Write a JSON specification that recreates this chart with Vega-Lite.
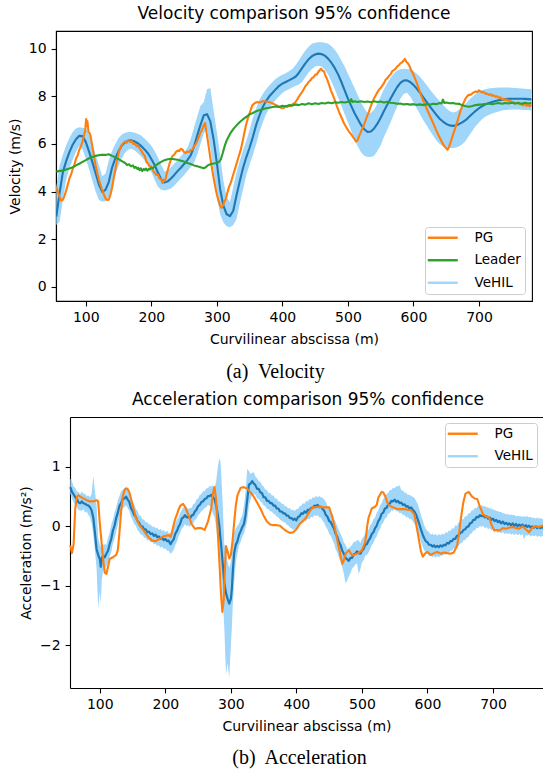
{
  "$schema": "https://vega.github.io/schema/vega-lite/v6.json",
  "background": "white",
  "padding": {"left": 8, "top": 4, "right": 0, "bottom": 0},
  "autosize": {"type": "pad"},
  "config": {
    "font": "DejaVu Sans",
    "view": {"stroke": null},
    "axis": {"grid": false, "domainColor": "#000", "domainWidth": 1.1, "tickColor": "#000", "tickWidth": 1.1, "tickSize": 4.9, "labelPadding": 4.9, "labelFont": "DejaVu Sans", "labelFontSize": 14, "labelColor": "#000", "titleFont": "DejaVu Sans", "titleFontSize": 14, "titleFontWeight": "normal", "titleColor": "#000"},
    "axisX": {"titlePadding": 7.5},
    "axisY": {"titlePadding": 5.6},
    "title": {"font": "DejaVu Sans", "fontSize": 17, "fontWeight": "normal", "color": "#000", "offset": 8, "anchor": "middle"},
    "concat": {"spacing": 9}
  },
  "resolve": {"scale": {"color": "independent", "x": "independent", "y": "independent"}, "legend": {"color": "independent"}},
  "datasets": {
    "vb": [
      {"x":55,"m":2.95,"lo":2.6,"hi":4.2},{"x":60,"m":3.95,"lo":2.75,"hi":5.1},{"x":65,"m":4.82,"lo":3.65,"hi":5.55},{"x":70,"m":5.28,"lo":4.5,"hi":5.95},{"x":75,"m":5.66,"lo":5.0,"hi":6.25},{"x":80,"m":5.97,"lo":5.35,"hi":6.5},{"x":85,"m":6.2,"lo":5.67,"hi":6.65},{"x":90,"m":6.34,"lo":5.9,"hi":6.7},{"x":95,"m":6.33,"lo":5.78,"hi":6.68},{"x":100,"m":6.08,"lo":5.38,"hi":6.65},
      {"x":105,"m":5.68,"lo":4.94,"hi":6.4},{"x":110,"m":5.24,"lo":4.47,"hi":6.0},{"x":115,"m":4.77,"lo":4.0,"hi":5.55},{"x":120,"m":4.3,"lo":3.65,"hi":5.1},{"x":125,"m":3.99,"lo":3.58,"hi":4.65},{"x":130,"m":4.07,"lo":3.6,"hi":4.75},{"x":135,"m":4.4,"lo":3.75,"hi":5.3},{"x":140,"m":5.0,"lo":4.1,"hi":5.7},{"x":145,"m":5.4,"lo":4.7,"hi":6.0},{"x":150,"m":5.7,"lo":5.1,"hi":6.25},
      {"x":155,"m":5.94,"lo":5.4,"hi":6.4},{"x":160,"m":6.07,"lo":5.64,"hi":6.47},{"x":165,"m":6.14,"lo":5.77,"hi":6.5},{"x":170,"m":6.15,"lo":5.8,"hi":6.5},{"x":175,"m":6.1,"lo":5.72,"hi":6.47},{"x":180,"m":6.02,"lo":5.6,"hi":6.42},{"x":185,"m":5.9,"lo":5.46,"hi":6.34},{"x":190,"m":5.76,"lo":5.3,"hi":6.22},{"x":195,"m":5.6,"lo":5.07,"hi":6.08},{"x":200,"m":5.37,"lo":4.82,"hi":5.92},
      {"x":205,"m":5.12,"lo":4.5,"hi":5.7},{"x":210,"m":4.8,"lo":4.2,"hi":5.44},{"x":215,"m":4.52,"lo":4.08,"hi":5.12},{"x":220,"m":4.38,"lo":4.05,"hi":4.85},{"x":225,"m":4.43,"lo":4.08,"hi":4.87},{"x":230,"m":4.55,"lo":4.13,"hi":5.02},{"x":235,"m":4.7,"lo":4.25,"hi":5.18},{"x":240,"m":4.86,"lo":4.4,"hi":5.32},{"x":245,"m":5.0,"lo":4.55,"hi":5.48},{"x":250,"m":5.16,"lo":4.7,"hi":5.64},
      {"x":255,"m":5.32,"lo":4.86,"hi":5.84},{"x":260,"m":5.52,"lo":5.02,"hi":6.2},{"x":265,"m":5.88,"lo":5.2,"hi":6.68},{"x":270,"m":6.35,"lo":5.55,"hi":7.15},{"x":275,"m":6.8,"lo":6.0,"hi":7.6},{"x":280,"m":7.2,"lo":6.45,"hi":7.75},{"x":285,"m":7.25,"lo":6.6,"hi":8.3},{"x":290,"m":6.95,"lo":5.85,"hi":8.35},{"x":295,"m":6.2,"lo":4.85,"hi":7.4},{"x":300,"m":5.2,"lo":3.75,"hi":6.5},
      {"x":305,"m":4.1,"lo":3.05,"hi":5.5},{"x":310,"m":3.4,"lo":2.7,"hi":4.45},{"x":315,"m":3.05,"lo":2.55,"hi":3.75},{"x":320,"m":2.97,"lo":2.5,"hi":3.55},{"x":325,"m":3.2,"lo":2.6,"hi":4.2},{"x":330,"m":3.85,"lo":2.85,"hi":4.8},{"x":335,"m":4.45,"lo":3.5,"hi":5.3},{"x":340,"m":5.0,"lo":4.1,"hi":5.75},{"x":345,"m":5.45,"lo":4.7,"hi":6.15},{"x":350,"m":5.85,"lo":5.15,"hi":6.6},
      {"x":355,"m":6.3,"lo":5.55,"hi":7.1},{"x":360,"m":6.8,"lo":6.0,"hi":7.5},{"x":365,"m":7.2,"lo":6.5,"hi":7.85},{"x":370,"m":7.55,"lo":6.9,"hi":8.1},{"x":375,"m":7.8,"lo":7.25,"hi":8.3},{"x":380,"m":8.0,"lo":7.5,"hi":8.45},{"x":385,"m":8.15,"lo":7.7,"hi":8.6},{"x":390,"m":8.3,"lo":7.85,"hi":8.74},{"x":395,"m":8.44,"lo":8.0,"hi":8.83},{"x":400,"m":8.53,"lo":8.14,"hi":8.9},
      {"x":405,"m":8.6,"lo":8.23,"hi":8.97},{"x":410,"m":8.67,"lo":8.3,"hi":9.05},{"x":415,"m":8.74,"lo":8.37,"hi":9.15},{"x":420,"m":8.82,"lo":8.44,"hi":9.3},{"x":425,"m":8.98,"lo":8.5,"hi":9.5},{"x":430,"m":9.18,"lo":8.6,"hi":9.72},{"x":435,"m":9.38,"lo":8.8,"hi":9.92},{"x":440,"m":9.55,"lo":9.0,"hi":10.08},{"x":445,"m":9.68,"lo":9.15,"hi":10.2},{"x":450,"m":9.76,"lo":9.25,"hi":10.25},
      {"x":455,"m":9.79,"lo":9.28,"hi":10.27},{"x":460,"m":9.77,"lo":9.25,"hi":10.27},{"x":465,"m":9.7,"lo":9.1,"hi":10.25},{"x":470,"m":9.57,"lo":8.9,"hi":10.2},{"x":475,"m":9.4,"lo":8.6,"hi":10.1},{"x":480,"m":9.18,"lo":8.3,"hi":9.95},{"x":485,"m":8.92,"lo":7.95,"hi":9.75},{"x":490,"m":8.6,"lo":7.6,"hi":9.5},{"x":495,"m":8.25,"lo":7.25,"hi":9.25},{"x":500,"m":7.9,"lo":6.9,"hi":8.95},
      {"x":505,"m":7.6,"lo":6.55,"hi":8.65},{"x":510,"m":7.3,"lo":6.2,"hi":8.35},{"x":515,"m":7.05,"lo":5.9,"hi":8.05},{"x":520,"m":6.8,"lo":5.65,"hi":7.75},{"x":525,"m":6.62,"lo":5.5,"hi":7.5},{"x":530,"m":6.5,"lo":5.45,"hi":7.3},{"x":535,"m":6.52,"lo":5.45,"hi":7.3},{"x":540,"m":6.65,"lo":5.5,"hi":7.45},{"x":545,"m":6.85,"lo":5.7,"hi":7.7},{"x":550,"m":7.1,"lo":5.95,"hi":8.0},
      {"x":555,"m":7.38,"lo":6.3,"hi":8.3},{"x":560,"m":7.65,"lo":6.6,"hi":8.55},{"x":565,"m":7.9,"lo":6.9,"hi":8.78},{"x":570,"m":8.15,"lo":7.25,"hi":8.95},{"x":575,"m":8.38,"lo":7.55,"hi":9.08},{"x":580,"m":8.56,"lo":7.9,"hi":9.13},{"x":585,"m":8.66,"lo":8.1,"hi":9.15},{"x":590,"m":8.67,"lo":8.15,"hi":9.15},{"x":595,"m":8.6,"lo":8.0,"hi":9.12},{"x":600,"m":8.48,"lo":7.75,"hi":9.05},
      {"x":605,"m":8.32,"lo":7.5,"hi":8.95},{"x":610,"m":8.15,"lo":7.25,"hi":8.82},{"x":615,"m":7.96,"lo":7.0,"hi":8.65},{"x":620,"m":7.77,"lo":6.78,"hi":8.47},{"x":625,"m":7.58,"lo":6.55,"hi":8.3},{"x":630,"m":7.4,"lo":6.35,"hi":8.12},{"x":635,"m":7.22,"lo":6.15,"hi":7.95},{"x":640,"m":7.06,"lo":6.0,"hi":7.8},{"x":645,"m":6.94,"lo":5.9,"hi":7.65},{"x":650,"m":6.84,"lo":5.85,"hi":7.5},
      {"x":655,"m":6.78,"lo":5.83,"hi":7.38},{"x":660,"m":6.76,"lo":5.83,"hi":7.32},{"x":665,"m":6.78,"lo":5.85,"hi":7.35},{"x":670,"m":6.84,"lo":5.9,"hi":7.45},{"x":675,"m":6.92,"lo":6.0,"hi":7.55},{"x":680,"m":7.01,"lo":6.15,"hi":7.7},{"x":685,"m":7.14,"lo":6.35,"hi":7.85},{"x":690,"m":7.27,"lo":6.55,"hi":7.98},{"x":695,"m":7.39,"lo":6.75,"hi":8.1},{"x":700,"m":7.5,"lo":6.9,"hi":8.2},
      {"x":705,"m":7.59,"lo":7.05,"hi":8.26},{"x":710,"m":7.66,"lo":7.15,"hi":8.3},{"x":715,"m":7.72,"lo":7.22,"hi":8.33},{"x":720,"m":7.76,"lo":7.28,"hi":8.35},{"x":725,"m":7.8,"lo":7.32,"hi":8.36},{"x":730,"m":7.83,"lo":7.36,"hi":8.37},{"x":735,"m":7.86,"lo":7.4,"hi":8.37},{"x":740,"m":7.88,"lo":7.42,"hi":8.37},{"x":745,"m":7.89,"lo":7.44,"hi":8.37},{"x":750,"m":7.9,"lo":7.45,"hi":8.36},
      {"x":755,"m":7.9,"lo":7.45,"hi":8.35},{"x":760,"m":7.9,"lo":7.45,"hi":8.34},{"x":765,"m":7.9,"lo":7.44,"hi":8.33},{"x":770,"m":7.89,"lo":7.43,"hi":8.32},{"x":775,"m":7.88,"lo":7.42,"hi":8.31},{"x":780,"m":7.87,"lo":7.4,"hi":8.3}
    ],
    "vp": [
      {"x":55,"p":4.2},{"x":57.5,"p":3.98},{"x":60,"p":3.78},{"x":62.5,"p":3.62},{"x":65,"p":3.66},{"x":67.5,"p":3.82},{"x":70,"p":4.05},{"x":72.5,"p":4.3},{"x":75,"p":4.55},{"x":77.5,"p":4.72},{"x":80,"p":4.95},{"x":82.5,"p":5.12},{"x":85,"p":5.38},{"x":87.5,"p":5.52},{"x":90,"p":5.75},{"x":92.5,"p":5.9},{"x":95,"p":6.1},{"x":97.5,"p":6.4},{"x":99,"p":6.55},{"x":100.5,"p":7.05},{"x":101.5,"p":6.75},{"x":102.5,"p":6.95},{"x":104,"p":6.5},{"x":106,"p":6.45},{"x":107.5,"p":6.3},{"x":110,"p":5.9},{"x":112.5,"p":5.47},{"x":115,"p":5.1},{"x":117.5,"p":4.77},{"x":120,"p":4.5},{"x":122.5,"p":4.28},{"x":125,"p":4.07},{"x":127.5,"p":3.88},{"x":130,"p":3.72},{"x":132.5,"p":3.65},{"x":135,"p":3.66},{"x":137.5,"p":3.86},{"x":140,"p":4.15},{"x":142.5,"p":4.55},{"x":145,"p":4.92},{"x":147.5,"p":5.3},{"x":150,"p":5.6},
      {"x":152.5,"p":5.85},{"x":155,"p":5.95},{"x":157.5,"p":6.05},{"x":160,"p":6.1},{"x":162.5,"p":6.05},{"x":165,"p":6.16},{"x":167.5,"p":6.08},{"x":170,"p":6.12},{"x":172.5,"p":6.0},{"x":175,"p":6.02},{"x":177.5,"p":5.9},{"x":180,"p":5.92},{"x":182.5,"p":5.8},{"x":185,"p":5.7},{"x":187.5,"p":5.58},{"x":190,"p":5.5},{"x":192.5,"p":5.25},{"x":195,"p":5.18},{"x":197.5,"p":5.05},{"x":200,"p":5.06},{"x":202.5,"p":4.88},{"x":205,"p":4.8},{"x":207.5,"p":4.7},{"x":210,"p":4.72},{"x":212.5,"p":4.55},{"x":215,"p":4.52},{"x":217,"p":4.36},{"x":219,"p":4.5},{"x":221,"p":4.45},{"x":223,"p":4.7},{"x":225,"p":4.9},{"x":227.5,"p":5.15},{"x":230,"p":5.35},{"x":232.5,"p":5.5},{"x":235,"p":5.55},{"x":237.5,"p":5.66},{"x":240,"p":5.72},{"x":242.5,"p":5.7},{"x":245,"p":5.8},{"x":247.5,"p":5.76},{"x":250,"p":5.65},
      {"x":252.5,"p":5.62},{"x":255,"p":5.68},{"x":257.5,"p":5.66},{"x":260,"p":5.74},{"x":262.5,"p":5.76},{"x":265,"p":5.9},{"x":267.5,"p":5.98},{"x":270,"p":6.12},{"x":272.5,"p":6.3},{"x":275,"p":6.48},{"x":277.5,"p":6.6},{"x":280,"p":6.78},{"x":282,"p":6.88},{"x":283.5,"p":6.6},{"x":285,"p":6.35},{"x":287.5,"p":5.9},{"x":290,"p":5.42},{"x":292.5,"p":4.98},{"x":295,"p":4.58},{"x":297.5,"p":4.2},{"x":300,"p":3.88},{"x":302.5,"p":3.62},{"x":305,"p":3.42},{"x":307,"p":3.32},{"x":309,"p":3.4},{"x":311,"p":3.55},{"x":313.5,"p":3.68},{"x":316,"p":3.95},{"x":318.5,"p":4.2},{"x":321,"p":4.35},{"x":325,"p":4.72},{"x":328.7,"p":5.05},{"x":332.5,"p":5.4},{"x":336.4,"p":5.75},{"x":340,"p":6.2},{"x":344,"p":6.74},{"x":347,"p":7.05},{"x":350,"p":7.3},{"x":354,"p":7.62},{"x":358,"p":7.72},{"x":362,"p":7.76},{"x":366,"p":7.74},{"x":370,"p":7.8},{"x":375,"p":7.78},{"x":380,"p":7.76},{"x":385,"p":7.7},{"x":390,"p":7.64},{"x":395,"p":7.56},{"x":400,"p":7.5},
      {"x":402.5,"p":7.52},{"x":405,"p":7.6},{"x":407.5,"p":7.55},{"x":410,"p":7.6},{"x":412.5,"p":7.58},{"x":415,"p":7.66},{"x":417.5,"p":7.7},{"x":420,"p":7.76},{"x":422.5,"p":7.86},{"x":425,"p":7.98},{"x":427.5,"p":8.08},{"x":430,"p":8.18},{"x":432.5,"p":8.3},{"x":435,"p":8.42},{"x":437.5,"p":8.5},{"x":440,"p":8.6},{"x":442.5,"p":8.66},{"x":445,"p":8.76},{"x":447.5,"p":8.8},{"x":450,"p":8.9},{"x":452.5,"p":8.92},{"x":455,"p":9.03},{"x":457.5,"p":9.12},{"x":459,"p":9.16},{"x":461,"p":9.08},{"x":463.5,"p":9.04},{"x":466,"p":8.85},{"x":468.5,"p":8.7},{"x":471,"p":8.5},{"x":474,"p":8.25},{"x":477,"p":8.05},{"x":480,"p":7.84},{"x":483,"p":7.6},{"x":486.5,"p":7.35},{"x":490,"p":7.12},{"x":494,"p":6.87},{"x":497.5,"p":6.7},{"x":501.5,"p":6.52},{"x":505,"p":6.4},{"x":509,"p":6.24},{"x":512.5,"p":6.1},{"x":514.5,"p":6.15},{"x":517,"p":6.32},{"x":520,"p":6.52},{"x":524.5,"p":6.8},{"x":528,"p":7.08},{"x":532,"p":7.36},{"x":536,"p":7.66},{"x":540,"p":7.92},{"x":543.5,"p":8.1},{"x":547.5,"p":8.28},
      {"x":550,"p":8.35},{"x":552.5,"p":8.45},{"x":555,"p":8.55},{"x":557.5,"p":8.7},{"x":560,"p":8.75},{"x":562.5,"p":8.85},{"x":565,"p":8.92},{"x":567.5,"p":9.05},{"x":570,"p":9.1},{"x":572.5,"p":9.15},{"x":575,"p":9.24},{"x":577.5,"p":9.3},{"x":580,"p":9.38},{"x":582.5,"p":9.42},{"x":585,"p":9.5},{"x":587,"p":9.57},{"x":589,"p":9.45},{"x":591,"p":9.4},{"x":593.5,"p":9.3},{"x":596,"p":9.12},{"x":598.5,"p":9.0},{"x":601,"p":8.84},{"x":604.5,"p":8.6},{"x":608.6,"p":8.28},{"x":613,"p":7.95},{"x":618.7,"p":7.58},{"x":623.5,"p":7.28},{"x":628.9,"p":6.95},{"x":634,"p":6.62},{"x":639,"p":6.32},{"x":643,"p":6.1},{"x":646.7,"p":5.92},{"x":650,"p":5.82},{"x":652,"p":5.76},{"x":654,"p":5.85},{"x":657,"p":6.1},{"x":660.5,"p":6.4},{"x":664.5,"p":6.73},{"x":668.5,"p":7.08},{"x":672.2,"p":7.43},{"x":676,"p":7.7},{"x":679.8,"p":7.92},{"x":683.5,"p":8.05},{"x":687.5,"p":8.07},{"x":691,"p":8.15},{"x":695,"p":8.2},{"x":697.5,"p":8.18},{"x":700,"p":8.25},
      {"x":702.5,"p":8.2},{"x":705,"p":8.16},{"x":707.5,"p":8.18},{"x":710,"p":8.1},{"x":712.5,"p":8.12},{"x":715,"p":8.06},{"x":717.5,"p":8.09},{"x":720,"p":8.02},{"x":722.5,"p":8.04},{"x":725,"p":7.98},{"x":727.5,"p":8.0},{"x":730,"p":7.94},{"x":732.5,"p":7.96},{"x":735,"p":7.88},{"x":737.5,"p":7.9},{"x":740,"p":7.84},{"x":742.5,"p":7.86},{"x":745,"p":7.8},{"x":747.5,"p":7.82},{"x":750,"p":7.74},{"x":752.5,"p":7.76},{"x":755,"p":7.7},{"x":757.5,"p":7.72},{"x":760,"p":7.74},{"x":762.5,"p":7.66},{"x":765,"p":7.68},{"x":767.5,"p":7.62},{"x":770,"p":7.7},{"x":772.5,"p":7.6},{"x":775,"p":7.64},{"x":777.5,"p":7.58},{"x":780,"p":7.65}
    ],
    "vl": [
      {"x":55,"l":4.84},{"x":60,"l":4.87},{"x":65,"l":4.88},{"x":70,"l":4.93},{"x":75,"l":4.97},{"x":80,"l":5.02},{"x":85,"l":5.1},{"x":90,"l":5.17},{"x":95,"l":5.25},{"x":100,"l":5.32},{"x":105,"l":5.4},{"x":110,"l":5.45},{"x":115,"l":5.5},{"x":120,"l":5.53},{"x":125,"l":5.55},{"x":130,"l":5.54},{"x":135,"l":5.57},{"x":140,"l":5.5},{"x":145,"l":5.44},{"x":150,"l":5.36},{"x":155,"l":5.28},{"x":160,"l":5.2},{"x":163,"l":5.12},{"x":166,"l":5.15},{"x":169,"l":5.06},{"x":172,"l":5.1},{"x":174,"l":5.0},{"x":176,"l":5.04},{"x":178.5,"l":4.95},{"x":180,"l":5.0},{"x":182,"l":4.9},{"x":184,"l":4.98},{"x":186,"l":4.86},{"x":188.5,"l":4.95},{"x":190,"l":4.9},{"x":192,"l":4.97},{"x":194,"l":4.88},{"x":196.5,"l":4.96},{"x":198,"l":4.93},{"x":200,"l":5.0},{"x":202.5,"l":4.98},{"x":205,"l":5.07},{"x":210,"l":5.16},
      {"x":215,"l":5.25},{"x":220,"l":5.32},{"x":225,"l":5.36},{"x":230,"l":5.38},{"x":235,"l":5.36},{"x":240,"l":5.34},{"x":245,"l":5.3},{"x":250,"l":5.26},{"x":255,"l":5.2},{"x":260,"l":5.16},{"x":265,"l":5.1},{"x":270,"l":5.06},{"x":275,"l":5.02},{"x":280,"l":4.98},{"x":283,"l":5.02},{"x":286,"l":5.1},{"x":290,"l":5.15},{"x":295,"l":5.18},{"x":300,"l":5.2},{"x":303,"l":5.24},{"x":306,"l":5.35},{"x":309,"l":5.62},{"x":312,"l":5.92},{"x":315,"l":6.15},{"x":320,"l":6.42},{"x":325,"l":6.62},{"x":330,"l":6.78},{"x":335,"l":6.92},{"x":340,"l":7.04},{"x":345,"l":7.14},{"x":350,"l":7.24},{"x":355,"l":7.3},{"x":360,"l":7.37},{"x":365,"l":7.42},{"x":370,"l":7.46},{"x":375,"l":7.5},{"x":380,"l":7.52},{"x":385,"l":7.55},{"x":390,"l":7.57},{"x":395,"l":7.55},
      {"x":400,"l":7.6},{"x":405,"l":7.57},{"x":410,"l":7.63},{"x":415,"l":7.61},{"x":420,"l":7.66},{"x":425,"l":7.63},{"x":430,"l":7.68},{"x":435,"l":7.65},{"x":440,"l":7.71},{"x":445,"l":7.67},{"x":450,"l":7.71},{"x":455,"l":7.68},{"x":460,"l":7.72},{"x":465,"l":7.7},{"x":470,"l":7.74},{"x":475,"l":7.71},{"x":480,"l":7.75},{"x":485,"l":7.73},{"x":490,"l":7.76},{"x":495,"l":7.74},{"x":500,"l":7.77},{"x":503,"l":7.75},{"x":505,"l":7.88},{"x":507,"l":7.76},{"x":510,"l":7.79},{"x":515,"l":7.76},{"x":520,"l":7.79},{"x":525,"l":7.76},{"x":530,"l":7.78},{"x":535,"l":7.75},{"x":540,"l":7.79},{"x":545,"l":7.76},{"x":550,"l":7.78},{"x":555,"l":7.74},{"x":560,"l":7.77},{"x":565,"l":7.73},{"x":570,"l":7.72},{"x":575,"l":7.69},{"x":580,"l":7.7},{"x":585,"l":7.66},
      {"x":590,"l":7.68},{"x":595,"l":7.65},{"x":600,"l":7.67},{"x":605,"l":7.64},{"x":610,"l":7.66},{"x":615,"l":7.63},{"x":620,"l":7.67},{"x":625,"l":7.65},{"x":630,"l":7.69},{"x":635,"l":7.67},{"x":640,"l":7.72},{"x":643,"l":7.7},{"x":645,"l":7.86},{"x":647,"l":7.72},{"x":650,"l":7.74},{"x":655,"l":7.71},{"x":660,"l":7.72},{"x":665,"l":7.69},{"x":670,"l":7.68},{"x":675,"l":7.62},{"x":680,"l":7.58},{"x":685,"l":7.56},{"x":690,"l":7.59},{"x":695,"l":7.63},{"x":700,"l":7.65},{"x":705,"l":7.66},{"x":710,"l":7.68},{"x":715,"l":7.7},{"x":720,"l":7.67},{"x":725,"l":7.7},{"x":730,"l":7.72},{"x":735,"l":7.69},{"x":740,"l":7.72},{"x":745,"l":7.7},{"x":750,"l":7.73},{"x":755,"l":7.7},{"x":760,"l":7.72},{"x":765,"l":7.69},{"x":770,"l":7.73},{"x":775,"l":7.7},{"x":780,"l":7.72}
    ],
    "ab": [
      {"x":55,"m":0.66,"lo":0.55,"hi":0.8},{"x":57.5,"m":0.58,"lo":0.47,"hi":0.76},{"x":60,"m":0.54,"lo":0.41,"hi":0.67},{"x":62.5,"m":0.49,"lo":0.35,"hi":0.65},{"x":65,"m":0.46,"lo":0.33,"hi":0.59},{"x":67.5,"m":0.4,"lo":0.27,"hi":0.58},{"x":70,"m":0.39,"lo":0.27,"hi":0.54},{"x":72.5,"m":0.42,"lo":0.26,"hi":0.59},{"x":75,"m":0.39,"lo":0.29,"hi":0.55},{"x":77.5,"m":0.38,"lo":0.23,"hi":0.55},{"x":80,"m":0.36,"lo":0.25,"hi":0.51},{"x":82.5,"m":0.35,"lo":0.19,"hi":0.52},{"x":85,"m":0.32,"lo":0.16,"hi":0.49},{"x":87.5,"m":0.27,"lo":0.05,"hi":0.55},{"x":90,"m":0.15,"lo":-0.15,"hi":0.85},{"x":92.5,"m":-0.1,"lo":-0.4,"hi":0.6},{"x":95,"m":-0.38,"lo":-0.7,"hi":0.35},{"x":97.5,"m":-0.48,"lo":-1.38,"hi":-0.2},{"x":100,"m":-0.55,"lo":-1.1,"hi":-0.3},{"x":101.5,"m":-0.68,"lo":-1.3,"hi":-0.35},{"x":103,"m":-0.53,"lo":-0.9,"hi":-0.3},{"x":105,"m":-0.5,"lo":-0.75,"hi":-0.31},{"x":107.5,"m":-0.52,"lo":-0.7,"hi":-0.3},{"x":110,"m":-0.46,"lo":-0.67,"hi":-0.31},
      {"x":112.5,"m":-0.41,"lo":-0.61,"hi":-0.19},{"x":115,"m":-0.3,"lo":-0.51,"hi":-0.11},{"x":117.5,"m":-0.21,"lo":-0.43,"hi":0.03},{"x":120,"m":-0.07,"lo":-0.29,"hi":0.11},{"x":122.5,"m":0.01,"lo":-0.21,"hi":0.23},{"x":125,"m":0.14,"lo":-0.09,"hi":0.32},{"x":127.5,"m":0.23,"lo":0.02,"hi":0.44},{"x":130,"m":0.35,"lo":0.16,"hi":0.51},{"x":132.5,"m":0.39,"lo":0.22,"hi":0.59},{"x":135,"m":0.46,"lo":0.31,"hi":0.61},{"x":137.5,"m":0.47,"lo":0.32,"hi":0.65},{"x":140,"m":0.5,"lo":0.36,"hi":0.64},{"x":142.5,"m":0.45,"lo":0.31,"hi":0.65},{"x":145,"m":0.41,"lo":0.26,"hi":0.59},{"x":147.5,"m":0.31,"lo":0.16,"hi":0.51},{"x":150,"m":0.26,"lo":0.11,"hi":0.41},{"x":152.5,"m":0.19,"lo":0.04,"hi":0.37},{"x":155,"m":0.16,"lo":0.01,"hi":0.29},{"x":157.5,"m":0.09,"lo":-0.06,"hi":0.26},{"x":160,"m":0.06,"lo":-0.09,"hi":0.19},{"x":162.5,"m":0.0,"lo":-0.14,"hi":0.17},{"x":165,"m":0.0,"lo":-0.14,"hi":0.12},{"x":167.5,"m":-0.05,"lo":-0.19,"hi":0.11},{"x":170,"m":-0.05,"lo":-0.19,"hi":0.07},{"x":172.5,"m":-0.1,"lo":-0.24,"hi":0.07},{"x":175,"m":-0.09,"lo":-0.23,"hi":0.03},
      {"x":177.5,"m":-0.13,"lo":-0.27,"hi":0.03},{"x":180,"m":-0.12,"lo":-0.26,"hi":-0.01},{"x":182.5,"m":-0.16,"lo":-0.3,"hi":0.0},{"x":185,"m":-0.14,"lo":-0.29,"hi":-0.03},{"x":187.5,"m":-0.18,"lo":-0.33,"hi":-0.02},{"x":190,"m":-0.17,"lo":-0.32,"hi":-0.06},{"x":192.5,"m":-0.21,"lo":-0.36,"hi":-0.04},{"x":195,"m":-0.19,"lo":-0.34,"hi":-0.08},{"x":197.5,"m":-0.23,"lo":-0.38,"hi":-0.06},{"x":200,"m":-0.21,"lo":-0.37,"hi":-0.1},{"x":202.5,"m":-0.25,"lo":-0.41,"hi":-0.07},{"x":205,"m":-0.24,"lo":-0.41,"hi":-0.11},{"x":208,"m":-0.3,"lo":-0.46,"hi":-0.11},{"x":210,"m":-0.26,"lo":-0.44,"hi":-0.09},{"x":213,"m":-0.21,"lo":-0.39,"hi":0.01},{"x":215,"m":-0.13,"lo":-0.32,"hi":0.04},{"x":218,"m":-0.07,"lo":-0.25,"hi":0.13},{"x":220,"m":-0.01,"lo":-0.17,"hi":0.14},{"x":222.5,"m":0.04,"lo":-0.11,"hi":0.23},{"x":225,"m":0.13,"lo":-0.04,"hi":0.27},{"x":227.5,"m":0.15,"lo":-0.01,"hi":0.32},{"x":230,"m":0.19,"lo":0.04,"hi":0.32},{"x":232.5,"m":0.15,"lo":0.0,"hi":0.32},{"x":235,"m":0.16,"lo":0.02,"hi":0.29},{"x":237.5,"m":0.13,"lo":-0.01,"hi":0.31},{"x":240,"m":0.18,"lo":0.04,"hi":0.31},
      {"x":242.5,"m":0.19,"lo":0.05,"hi":0.37},{"x":245,"m":0.25,"lo":0.11,"hi":0.39},{"x":247.5,"m":0.28,"lo":0.13,"hi":0.45},{"x":250,"m":0.34,"lo":0.19,"hi":0.47},{"x":252.5,"m":0.36,"lo":0.21,"hi":0.53},{"x":255,"m":0.41,"lo":0.26,"hi":0.54},{"x":257.5,"m":0.42,"lo":0.27,"hi":0.59},{"x":260,"m":0.46,"lo":0.31,"hi":0.59},{"x":262.5,"m":0.47,"lo":0.32,"hi":0.64},{"x":265,"m":0.51,"lo":0.36,"hi":0.64},{"x":267.5,"m":0.51,"lo":0.35,"hi":0.68},{"x":270,"m":0.53,"lo":0.31,"hi":0.67},{"x":272.5,"m":0.49,"lo":0.21,"hi":0.69},{"x":275,"m":0.46,"lo":0.16,"hi":0.64},{"x":277.5,"m":0.35,"lo":0.0,"hi":0.75},{"x":280,"m":0.2,"lo":-0.25,"hi":1.0},{"x":282.5,"m":0.0,"lo":-0.4,"hi":1.14},{"x":284,"m":-0.2,"lo":-0.6,"hi":1.1},{"x":285,"m":-0.3,"lo":-0.75,"hi":0.95},{"x":287,"m":-0.55,"lo":-1.1,"hi":0.5},{"x":290,"m":-0.95,"lo":-1.7,"hi":-0.3},{"x":292.5,"m":-1.12,"lo":-2.5,"hi":-0.45},{"x":295,"m":-1.22,"lo":-2.3,"hi":-0.6},{"x":297.5,"m":-1.3,"lo":-2.55,"hi":-0.7},{"x":300,"m":-1.22,"lo":-2.0,"hi":-0.6},
      {"x":301.5,"m":-1.05,"lo":-1.7,"hi":-0.45},{"x":303,"m":-0.75,"lo":-1.3,"hi":-0.25},{"x":305,"m":-0.45,"lo":-0.95,"hi":-0.1},{"x":307.5,"m":-0.31,"lo":-0.6,"hi":-0.04},{"x":310,"m":-0.25,"lo":-0.46,"hi":0.01},{"x":312.5,"m":-0.14,"lo":-0.32,"hi":0.05},{"x":315,"m":-0.08,"lo":-0.26,"hi":0.13},{"x":317.5,"m":-0.01,"lo":-0.17,"hi":0.19},{"x":320,"m":0.04,"lo":-0.12,"hi":0.35},{"x":322.5,"m":0.2,"lo":-0.02,"hi":0.6},{"x":325,"m":0.45,"lo":0.1,"hi":0.97},{"x":327.5,"m":0.7,"lo":0.35,"hi":0.93},{"x":330,"m":0.72,"lo":0.45,"hi":0.88},{"x":332.5,"m":0.76,"lo":0.53,"hi":0.9},{"x":335,"m":0.72,"lo":0.54,"hi":0.91},{"x":337.5,"m":0.69,"lo":0.53,"hi":0.84},{"x":340,"m":0.63,"lo":0.47,"hi":0.81},{"x":342.5,"m":0.63,"lo":0.46,"hi":0.76},{"x":345,"m":0.57,"lo":0.42,"hi":0.75},{"x":347.5,"m":0.56,"lo":0.4,"hi":0.69},{"x":350,"m":0.49,"lo":0.35,"hi":0.67},{"x":352.5,"m":0.49,"lo":0.34,"hi":0.62},{"x":355,"m":0.43,"lo":0.29,"hi":0.61},{"x":357.5,"m":0.43,"lo":0.29,"hi":0.56},{"x":360,"m":0.39,"lo":0.25,"hi":0.56},{"x":362.5,"m":0.39,"lo":0.25,"hi":0.52},{"x":365,"m":0.35,"lo":0.21,"hi":0.52},
      {"x":367.5,"m":0.35,"lo":0.2,"hi":0.47},{"x":370,"m":0.3,"lo":0.16,"hi":0.47},{"x":372.5,"m":0.3,"lo":0.15,"hi":0.42},{"x":375,"m":0.25,"lo":0.11,"hi":0.42},{"x":377.5,"m":0.25,"lo":0.1,"hi":0.38},{"x":380,"m":0.22,"lo":0.07,"hi":0.38},{"x":382.5,"m":0.22,"lo":0.07,"hi":0.34},{"x":385,"m":0.18,"lo":0.03,"hi":0.34},{"x":387.5,"m":0.18,"lo":0.02,"hi":0.3},{"x":390,"m":0.14,"lo":-0.02,"hi":0.31},{"x":392.5,"m":0.14,"lo":-0.03,"hi":0.27},{"x":395,"m":0.11,"lo":-0.06,"hi":0.28},{"x":397.5,"m":0.13,"lo":-0.04,"hi":0.26},{"x":400,"m":0.1,"lo":-0.05,"hi":0.29},{"x":402.5,"m":0.16,"lo":-0.01,"hi":0.29},{"x":405,"m":0.17,"lo":0.01,"hi":0.34},{"x":407.5,"m":0.22,"lo":0.06,"hi":0.35},{"x":410,"m":0.21,"lo":0.06,"hi":0.39},{"x":412.5,"m":0.25,"lo":0.1,"hi":0.38},{"x":415,"m":0.23,"lo":0.09,"hi":0.43},{"x":417.5,"m":0.28,"lo":0.13,"hi":0.42},{"x":420,"m":0.27,"lo":0.12,"hi":0.46},{"x":422.5,"m":0.31,"lo":0.16,"hi":0.45},{"x":425,"m":0.31,"lo":0.15,"hi":0.49},{"x":427.5,"m":0.35,"lo":0.19,"hi":0.48},{"x":430,"m":0.34,"lo":0.17,"hi":0.51},{"x":432.5,"m":0.36,"lo":0.19,"hi":0.49},
      {"x":435,"m":0.32,"lo":0.15,"hi":0.51},{"x":437.5,"m":0.33,"lo":0.15,"hi":0.49},{"x":440,"m":0.29,"lo":0.09,"hi":0.48},{"x":442.5,"m":0.26,"lo":0.06,"hi":0.45},{"x":445,"m":0.19,"lo":-0.01,"hi":0.41},{"x":447.5,"m":0.16,"lo":-0.05,"hi":0.34},{"x":450,"m":0.09,"lo":-0.13,"hi":0.31},{"x":452.5,"m":0.07,"lo":-0.16,"hi":0.24},{"x":455,"m":0.01,"lo":-0.23,"hi":0.21},{"x":457.5,"m":-0.04,"lo":-0.29,"hi":0.13},{"x":460,"m":-0.13,"lo":-0.39,"hi":0.07},{"x":462.5,"m":-0.18,"lo":-0.44,"hi":0.0},{"x":465,"m":-0.27,"lo":-0.53,"hi":-0.07},{"x":467.5,"m":-0.32,"lo":-0.6,"hi":-0.13},{"x":470,"m":-0.41,"lo":-0.69,"hi":-0.19},{"x":472.5,"m":-0.46,"lo":-0.8,"hi":-0.27},{"x":475,"m":-0.53,"lo":-0.96,"hi":-0.31},{"x":478,"m":-0.56,"lo":-0.9,"hi":-0.39},{"x":480,"m":-0.58,"lo":-0.84,"hi":-0.37},{"x":482.5,"m":-0.53,"lo":-0.79,"hi":-0.34},{"x":485,"m":-0.53,"lo":-0.71,"hi":-0.31},{"x":487.5,"m":-0.47,"lo":-0.68,"hi":-0.26},{"x":490,"m":-0.46,"lo":-0.64,"hi":-0.26},{"x":492.5,"m":-0.42,"lo":-0.62,"hi":-0.23},{"x":495,"m":-0.45,"lo":-0.8,"hi":-0.24},{"x":497.5,"m":-0.46,"lo":-0.72,"hi":-0.28},{"x":500,"m":-0.41,"lo":-0.61,"hi":-0.21},
      {"x":502.5,"m":-0.38,"lo":-0.57,"hi":-0.18},{"x":505,"m":-0.31,"lo":-0.49,"hi":-0.13},{"x":507.5,"m":-0.3,"lo":-0.48,"hi":-0.07},{"x":510,"m":-0.24,"lo":-0.44,"hi":-0.06},{"x":512.5,"m":-0.2,"lo":-0.38,"hi":0.02},{"x":515,"m":-0.13,"lo":-0.32,"hi":0.05},{"x":517.5,"m":-0.1,"lo":-0.28,"hi":0.12},{"x":520,"m":-0.03,"lo":-0.21,"hi":0.15},{"x":522.5,"m":0.01,"lo":-0.17,"hi":0.23},{"x":525,"m":0.09,"lo":-0.09,"hi":0.27},{"x":527.5,"m":0.13,"lo":-0.05,"hi":0.35},{"x":530,"m":0.21,"lo":0.03,"hi":0.39},{"x":532.5,"m":0.23,"lo":0.06,"hi":0.46},{"x":535,"m":0.3,"lo":0.13,"hi":0.49},{"x":537.5,"m":0.31,"lo":0.15,"hi":0.54},{"x":540,"m":0.37,"lo":0.21,"hi":0.56},{"x":542.5,"m":0.38,"lo":0.22,"hi":0.61},{"x":545,"m":0.43,"lo":0.27,"hi":0.61},{"x":547.5,"m":0.42,"lo":0.26,"hi":0.65},{"x":550,"m":0.45,"lo":0.29,"hi":0.64},{"x":552.5,"m":0.41,"lo":0.25,"hi":0.68},{"x":555,"m":0.43,"lo":0.26,"hi":0.67},{"x":557.5,"m":0.39,"lo":0.22,"hi":0.69},{"x":560,"m":0.4,"lo":0.23,"hi":0.61},{"x":562.5,"m":0.36,"lo":0.19,"hi":0.6},{"x":565,"m":0.37,"lo":0.19,"hi":0.57},
      {"x":567.5,"m":0.33,"lo":0.15,"hi":0.56},{"x":570,"m":0.34,"lo":0.16,"hi":0.53},{"x":572.5,"m":0.3,"lo":0.12,"hi":0.53},{"x":575,"m":0.32,"lo":0.13,"hi":0.51},{"x":577.5,"m":0.28,"lo":0.09,"hi":0.5},{"x":580,"m":0.25,"lo":0.05,"hi":0.48},{"x":582.5,"m":0.2,"lo":0.0,"hi":0.43},{"x":585,"m":0.12,"lo":-0.08,"hi":0.38},{"x":587.5,"m":0.04,"lo":-0.17,"hi":0.29},{"x":590,"m":-0.05,"lo":-0.26,"hi":0.2},{"x":592.5,"m":-0.13,"lo":-0.34,"hi":0.11},{"x":595,"m":-0.2,"lo":-0.4,"hi":0.02},{"x":597.5,"m":-0.25,"lo":-0.45,"hi":-0.04},{"x":600,"m":-0.27,"lo":-0.46,"hi":-0.08},{"x":602.5,"m":-0.31,"lo":-0.5,"hi":-0.1},{"x":605,"m":-0.31,"lo":-0.49,"hi":-0.14},{"x":607.5,"m":-0.34,"lo":-0.52,"hi":-0.12},{"x":610,"m":-0.32,"lo":-0.5,"hi":-0.15},{"x":612.5,"m":-0.35,"lo":-0.53,"hi":-0.13},{"x":615,"m":-0.33,"lo":-0.5,"hi":-0.16},{"x":617.5,"m":-0.35,"lo":-0.52,"hi":-0.13},{"x":620,"m":-0.32,"lo":-0.49,"hi":-0.15},{"x":622.5,"m":-0.34,"lo":-0.5,"hi":-0.12},{"x":625,"m":-0.31,"lo":-0.47,"hi":-0.14},{"x":627.5,"m":-0.32,"lo":-0.48,"hi":-0.1},{"x":630,"m":-0.28,"lo":-0.44,"hi":-0.11},
      {"x":632.5,"m":-0.29,"lo":-0.45,"hi":-0.07},{"x":635,"m":-0.25,"lo":-0.41,"hi":-0.08},{"x":637.5,"m":-0.25,"lo":-0.41,"hi":-0.03},{"x":640,"m":-0.21,"lo":-0.37,"hi":-0.04},{"x":642.5,"m":-0.21,"lo":-0.38,"hi":0.02},{"x":645,"m":-0.16,"lo":-0.34,"hi":0.01},{"x":647.5,"m":-0.15,"lo":-0.33,"hi":0.07},{"x":650,"m":-0.11,"lo":-0.29,"hi":0.07},{"x":652.5,"m":-0.1,"lo":-0.28,"hi":0.12},{"x":655,"m":-0.06,"lo":-0.24,"hi":0.12},{"x":657.5,"m":-0.05,"lo":-0.23,"hi":0.17},{"x":660,"m":-0.01,"lo":-0.19,"hi":0.17},{"x":662.5,"m":0.0,"lo":-0.18,"hi":0.22},{"x":665,"m":0.05,"lo":-0.13,"hi":0.22},{"x":667.5,"m":0.06,"lo":-0.12,"hi":0.27},{"x":670,"m":0.11,"lo":-0.07,"hi":0.27},{"x":672.5,"m":0.11,"lo":-0.07,"hi":0.31},{"x":675,"m":0.16,"lo":-0.02,"hi":0.31},{"x":677.5,"m":0.15,"lo":-0.03,"hi":0.35},{"x":680,"m":0.19,"lo":0.01,"hi":0.34},{"x":682.5,"m":0.17,"lo":-0.01,"hi":0.36},{"x":685,"m":0.19,"lo":0.01,"hi":0.34},{"x":687.5,"m":0.15,"lo":-0.03,"hi":0.34},{"x":690,"m":0.17,"lo":-0.01,"hi":0.32},{"x":692.5,"m":0.13,"lo":-0.05,"hi":0.32},{"x":695,"m":0.15,"lo":-0.03,"hi":0.3},
      {"x":697.5,"m":0.11,"lo":-0.07,"hi":0.3},{"x":700,"m":0.13,"lo":-0.05,"hi":0.28},{"x":702.5,"m":0.09,"lo":-0.09,"hi":0.28},{"x":705,"m":0.11,"lo":-0.07,"hi":0.26},{"x":707.5,"m":0.07,"lo":-0.11,"hi":0.26},{"x":710,"m":0.09,"lo":-0.09,"hi":0.24},{"x":712.5,"m":0.05,"lo":-0.12,"hi":0.24},{"x":715,"m":0.08,"lo":-0.09,"hi":0.22},{"x":717.5,"m":0.04,"lo":-0.13,"hi":0.22},{"x":720,"m":0.06,"lo":-0.11,"hi":0.2},{"x":722.5,"m":0.03,"lo":-0.13,"hi":0.21},{"x":725,"m":0.05,"lo":-0.11,"hi":0.19},{"x":727.5,"m":0.02,"lo":-0.14,"hi":0.2},{"x":730,"m":0.05,"lo":-0.12,"hi":0.19},{"x":732.5,"m":0.01,"lo":-0.15,"hi":0.19},{"x":735,"m":0.04,"lo":-0.12,"hi":0.17},{"x":737.5,"m":0.0,"lo":-0.15,"hi":0.18},{"x":740,"m":0.03,"lo":-0.13,"hi":0.17},{"x":742.5,"m":0.0,"lo":-0.15,"hi":0.17},{"x":745,"m":0.03,"lo":-0.13,"hi":0.16},{"x":747.5,"m":-0.01,"lo":-0.22,"hi":0.17},{"x":750,"m":0.02,"lo":-0.14,"hi":0.16},{"x":752.5,"m":-0.01,"lo":-0.16,"hi":0.17},{"x":755,"m":0.01,"lo":-0.14,"hi":0.15},{"x":757.5,"m":-0.02,"lo":-0.17,"hi":0.16},{"x":760,"m":0.0,"lo":-0.15,"hi":0.14},
      {"x":762.5,"m":-0.02,"lo":-0.17,"hi":0.15},{"x":765,"m":0.0,"lo":-0.15,"hi":0.13},{"x":767.5,"m":-0.03,"lo":-0.18,"hi":0.15},{"x":770,"m":-0.01,"lo":-0.16,"hi":0.13},{"x":772.5,"m":-0.03,"lo":-0.18,"hi":0.14},{"x":775,"m":-0.01,"lo":-0.16,"hi":0.12},{"x":777.5,"m":-0.03,"lo":-0.17,"hi":0.14},{"x":780,"m":-0.01,"lo":-0.16,"hi":0.13}
    ],
    "ap": [
      {"x":55,"p":-0.32},{"x":57.5,"p":-0.45},{"x":60,"p":-0.3},{"x":62.5,"p":0.3},{"x":65,"p":0.5},{"x":67.5,"p":0.52},{"x":70,"p":0.5},{"x":75,"p":0.47},{"x":80,"p":0.44},{"x":85,"p":0.42},{"x":90,"p":0.42},{"x":95,"p":0.44},{"x":97.5,"p":0.42},{"x":100,"p":0.05},{"x":102.5,"p":-0.25},{"x":105,"p":-0.55},{"x":107.5,"p":-0.78},{"x":110,"p":-0.8},{"x":112.5,"p":-0.68},{"x":115,"p":-0.55},{"x":120,"p":-0.52},{"x":125,"p":-0.48},{"x":127.5,"p":-0.4},{"x":130,"p":-0.1},{"x":132.5,"p":0.25},{"x":135,"p":0.5},{"x":137.5,"p":0.6},{"x":140,"p":0.64},{"x":142.5,"p":0.63},{"x":145,"p":0.58},{"x":150,"p":0.36},{"x":155,"p":0.15},{"x":160,"p":0.03},{"x":165,"p":-0.04},{"x":170,"p":-0.12},{"x":175,"p":-0.19},{"x":180,"p":-0.24},{"x":185,"p":-0.25},{"x":190,"p":-0.22},{"x":195,"p":-0.18},{"x":200,"p":-0.16},{"x":205,"p":-0.15},{"x":208,"p":-0.18},
      {"x":210,"p":-0.1},{"x":213,"p":0.04},{"x":215,"p":0.12},{"x":218,"p":0.21},{"x":220,"p":0.28},{"x":223,"p":0.35},{"x":227,"p":0.38},{"x":230,"p":0.33},{"x":235,"p":0.2},{"x":240,"p":0.04},{"x":245,"p":-0.04},{"x":250,"p":-0.03},{"x":255,"p":-0.03},{"x":260,"p":-0.06},{"x":265,"p":0.08},{"x":270,"p":0.3},{"x":272.5,"p":0.55},{"x":275,"p":0.66},{"x":277.5,"p":0.45},{"x":280,"p":-0.1},{"x":282.5,"p":-0.6},{"x":285,"p":-1.15},{"x":287,"p":-1.44},{"x":289,"p":-1.24},{"x":291,"p":-0.7},{"x":292.5,"p":-0.33},{"x":295,"p":-0.42},{"x":297.5,"p":-0.54},{"x":300,"p":-0.48},{"x":302.5,"p":-0.25},{"x":305,"p":0.06},{"x":307.5,"p":0.35},{"x":310,"p":0.52},{"x":315,"p":0.65},{"x":320,"p":0.66},{"x":325,"p":0.63},{"x":330,"p":0.57},{"x":335,"p":0.5},{"x":340,"p":0.4},{"x":345,"p":0.3},{"x":350,"p":0.18},
      {"x":355,"p":0.08},{"x":360,"p":0.03},{"x":365,"p":0.02},{"x":370,"p":0.02},{"x":375,"p":0.01},{"x":380,"p":-0.04},{"x":385,"p":-0.08},{"x":390,"p":-0.11},{"x":395,"p":-0.1},{"x":400,"p":-0.05},{"x":405,"p":0.04},{"x":410,"p":0.09},{"x":415,"p":0.15},{"x":420,"p":0.25},{"x":425,"p":0.32},{"x":430,"p":0.32},{"x":435,"p":0.33},{"x":440,"p":0.32},{"x":445,"p":0.32},{"x":450,"p":0.32},{"x":455,"p":0.15},{"x":457.5,"p":0.03},{"x":460,"p":-0.1},{"x":462.5,"p":-0.24},{"x":465,"p":-0.37},{"x":467.5,"p":-0.5},{"x":470,"p":-0.63},{"x":472.5,"p":-0.57},{"x":475,"p":-0.46},{"x":480,"p":-0.4},{"x":485,"p":-0.49},{"x":490,"p":-0.47},{"x":495,"p":-0.45},{"x":500,"p":-0.4},{"x":505,"p":-0.27},{"x":508,"p":0.0},{"x":510,"p":0.14},{"x":515,"p":0.3},{"x":520,"p":0.33},{"x":522.5,"p":0.36},{"x":525,"p":0.48},{"x":530,"p":0.58},{"x":532.5,"p":0.57},{"x":535,"p":0.52},
      {"x":540,"p":0.37},{"x":545,"p":0.33},{"x":550,"p":0.31},{"x":555,"p":0.29},{"x":560,"p":0.29},{"x":565,"p":0.29},{"x":570,"p":0.28},{"x":575,"p":0.27},{"x":580,"p":0.2},{"x":585,"p":-0.1},{"x":590,"p":-0.42},{"x":593,"p":-0.51},{"x":597,"p":-0.45},{"x":600,"p":-0.43},{"x":605,"p":-0.48},{"x":610,"p":-0.45},{"x":615,"p":-0.43},{"x":620,"p":-0.46},{"x":625,"p":-0.44},{"x":630,"p":-0.45},{"x":635,"p":-0.46},{"x":640,"p":-0.44},{"x":645,"p":-0.33},{"x":648,"p":-0.15},{"x":650,"p":0.05},{"x":653,"p":0.28},{"x":655,"p":0.42},{"x":658,"p":0.55},{"x":663,"p":0.58},{"x":668,"p":0.5},{"x":672,"p":0.47},{"x":676,"p":0.46},{"x":680,"p":0.33},{"x":685,"p":0.2},{"x":690,"p":0.16},{"x":694,"p":0.15},{"x":698,"p":0.02},{"x":702,"p":-0.07},{"x":706,"p":-0.06},{"x":710,"p":-0.07},{"x":715,"p":-0.03},{"x":720,"p":-0.04},{"x":725,"p":-0.02},{"x":730,"p":-0.01},{"x":735,"p":-0.03},{"x":740,"p":-0.04},{"x":745,"p":0.0},{"x":750,"p":-0.05},{"x":755,"p":-0.1},{"x":760,"p":-0.02},{"x":765,"p":0.0},{"x":770,"p":-0.01},{"x":775,"p":0.01},{"x":780,"p":0.0}
    ]
  },
  "vconcat": [
    {
      "title": {"text": "(a)\u00a0 Velocity", "orient": "bottom", "font": "Liberation Serif", "fontSize": 20, "offset": 15, "anchor": "middle", "dx": 5},
      "resolve": {"scale": {"color": "independent"}, "legend": {"color": "independent"}},
      "vconcat": [
        {
          "width": 476,
          "height": 270,
          "title": {"text": "Velocity comparison 95% confidence"},
          "view": {"stroke": "#000", "strokeWidth": 1.1},
          "encoding": {
            "x": {"field": "x", "type": "quantitative", "scale": {"domain": [54.5, 780.9], "nice": false, "zero": false}, "axis": {"values": [100, 200, 300, 400, 500, 600, 700], "title": "Curvilinear abscissa (m)"}}
          },
          "layer": [
            {
              "data": {"name": "vb"},
              "mark": {"type": "area", "opacity": 1, "clip": true},
              "encoding": {
                "y": {"field": "lo", "type": "quantitative", "scale": {"domain": [-0.59, 10.74], "nice": false, "zero": false}, "axis": {"values": [0, 2, 4, 6, 8, 10], "format": "d"}, "title": "Velocity (m/s)"},
                "y2": {"field": "hi"},
                "color": {
                  "datum": "VeHIL",
                  "scale": {"domain": ["PG", "Leader", "VeHIL"], "range": ["#ff7f0e", "#2ca02c", "#9fd6fa"]},
                  "legend": {
                    "title": null, "orient": "bottom-right", "offset": 7.5, "padding": 4,
                    "strokeColor": "#cccccc", "cornerRadius": 3, "fillColor": "#ffffff",
                    "labelFont": "DejaVu Sans", "labelFontSize": 13.5, "labelColor": "#000",
                    "symbolSize": 100, "symbolType": "M-3,0H3", "symbolStrokeWidth": 2.4, "symbolOffset": 7, "labelOffset": 25, "rowPadding": 7.5
                  }
                }
              }
            },
            {
              "data": {"name": "vb"},
              "mark": {"type": "line", "color": "#1f77b4", "strokeWidth": 2.1, "strokeJoin": "round", "clip": true},
              "encoding": {"y": {"field": "m", "type": "quantitative", "scale": {"domain": [-0.59, 10.74], "nice": false, "zero": false}, "title": "Velocity (m/s)"}}
            },
            {
              "data": {"name": "vp"},
              "mark": {"type": "line", "strokeWidth": 2.1, "strokeJoin": "round", "clip": true},
              "encoding": {"y": {"field": "p", "type": "quantitative", "scale": {"domain": [-0.59, 10.74], "nice": false, "zero": false}, "title": "Velocity (m/s)"}, "color": {"datum": "PG"}}
            },
            {
              "data": {"name": "vl"},
              "mark": {"type": "line", "strokeWidth": 2.1, "strokeJoin": "round", "clip": true},
              "encoding": {"y": {"field": "l", "type": "quantitative", "scale": {"domain": [-0.59, 10.74], "nice": false, "zero": false}, "title": "Velocity (m/s)"}, "color": {"datum": "Leader"}}
            }
          ]
        }
      ]
    },
    {
      "title": {"text": "(b)\u00a0 Acceleration", "orient": "bottom", "font": "Liberation Serif", "fontSize": 20, "offset": 15, "anchor": "middle", "dx": 18},
      "resolve": {"scale": {"color": "independent"}, "legend": {"color": "independent"}},
      "vconcat": [
        {
          "width": 487,
          "height": 271,
          "title": {"text": "Acceleration comparison 95% confidence", "dx": 8.5},
          "view": {"stroke": null},
          "resolve": {"axis": {"x": "independent"}},
          "layer": [
            {
              "data": {"name": "ab"},
              "mark": {"type": "area", "opacity": 1, "clip": true},
              "encoding": {
                "x": {"field": "x", "type": "quantitative", "scale": {"domain": [54.5, 776.3], "range": [14, 487], "nice": false, "zero": false}, "axis": {"values": [100, 200, 300, 400, 500, 600, 700], "title": "Curvilinear abscissa (m)"}},
                "y": {"field": "lo", "type": "quantitative", "scale": {"domain": [-2.72, 1.84], "nice": false, "zero": false}, "axis": {"values": [-2, -1, 0, 1], "format": "d", "offset": -14}, "title": "Acceleration (m/s²)"},
                "y2": {"field": "hi"},
                "color": {
                  "datum": "VeHIL",
                  "scale": {"domain": ["PG", "VeHIL"], "range": ["#ff7f0e", "#9fd6fa"]},
                  "legend": {
                    "title": null, "orient": "top-right", "offset": 6, "padding": 4,
                    "strokeColor": "#cccccc", "cornerRadius": 3, "fillColor": "#ffffff",
                    "labelFont": "DejaVu Sans", "labelFontSize": 13.5, "labelColor": "#000",
                    "symbolSize": 100, "symbolType": "M-3,0H3", "symbolStrokeWidth": 2.4, "symbolOffset": 7, "labelOffset": 25, "rowPadding": 7.5
                  }
                }
              }
            },
            {
              "data": {"name": "ab"},
              "mark": {"type": "line", "color": "#1f77b4", "strokeWidth": 2.2, "strokeJoin": "round", "clip": true},
              "encoding": {
                "x": {"field": "x", "type": "quantitative", "scale": {"domain": [54.5, 776.3], "range": [14, 487], "nice": false, "zero": false}, "axis": {"orient": "top", "labels": false, "ticks": false, "title": null, "domain": true}},
                "y": {"field": "m", "type": "quantitative", "scale": {"domain": [-2.72, 1.84], "nice": false, "zero": false}, "title": "Acceleration (m/s²)"}
              }
            },
            {
              "data": {"name": "ap"},
              "mark": {"type": "line", "strokeWidth": 2.1, "strokeJoin": "round", "clip": true},
              "encoding": {
                "x": {"field": "x", "type": "quantitative", "scale": {"domain": [54.5, 776.3], "range": [14, 487], "nice": false, "zero": false}, "axis": null},
                "y": {"field": "p", "type": "quantitative", "scale": {"domain": [-2.72, 1.84], "nice": false, "zero": false}, "title": "Acceleration (m/s²)"},
                "color": {"datum": "PG"}
              }
            }
          ]
        }
      ]
    }
  ]
}
